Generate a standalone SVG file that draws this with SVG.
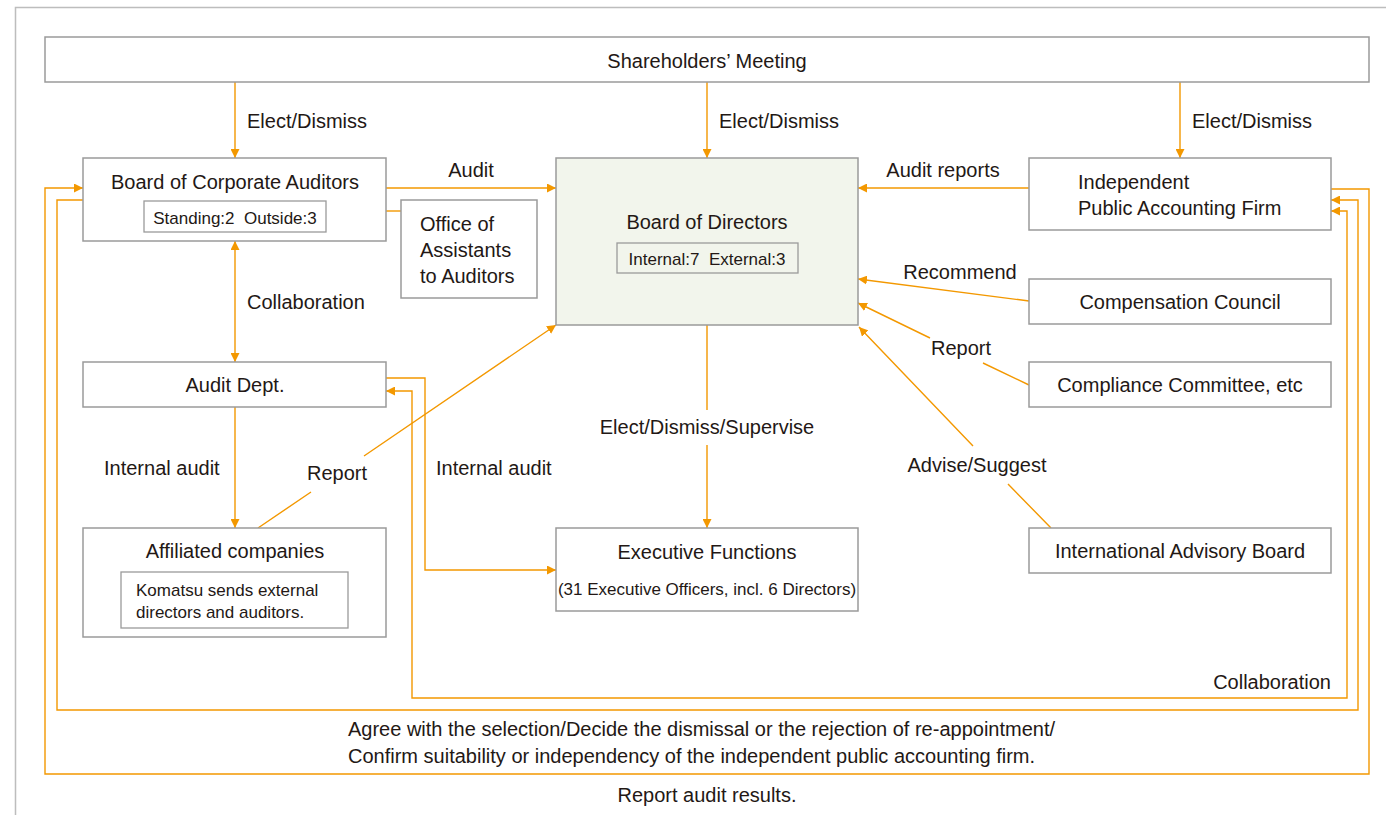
<svg xmlns="http://www.w3.org/2000/svg" width="1386" height="815" viewBox="0 0 1386 815">
<style>
text{font-family:"Liberation Sans",Arial,sans-serif;font-size:20px;fill:#231815}
.s{font-size:17px}
.c{text-anchor:middle}
.box{fill:#fff;stroke:#9a9a9a;stroke-width:1.5}
.ibox{fill:none;stroke:#9a9a9a;stroke-width:1.3}
.ln{fill:none;stroke:#f39800;stroke-width:1.4}
.a{marker-end:url(#ah)}
.aa{marker-start:url(#ah);marker-end:url(#ah)}
</style>
<defs>
<marker id="ah" markerUnits="userSpaceOnUse" markerWidth="9" markerHeight="9" refX="8" refY="4" orient="auto-start-reverse" viewBox="0 0 8 8">
<path d="M0,0 L8,4 L0,8 z" fill="#f39800"/>
</marker>
</defs>
<path d="M15.5,815 V7.5 H1386" fill="none" stroke="#bdbdbd" stroke-width="1.5"/>

<g id="connectors">
<path class="ln a" d="M235,82 V158"/>
<path class="ln a" d="M707,82 V158"/>
<path class="ln a" d="M1180,82 V158"/>
<path class="ln a" d="M386,188 H556"/>
<path class="ln" d="M386,211 H401"/>
<path class="ln a" d="M1029,188 H858"/>
<path class="ln a" d="M1029,301 L858,279"/>
<path class="ln a" d="M1029,385 L983,363 M930,338 L858,303"/>
<path class="ln a" d="M1051,528 L1008,484 M973,446 L859,327"/>
<path class="ln aa" d="M235,241 V362"/>
<path class="ln a" d="M235,407 V528"/>
<path class="ln a" d="M258,528 L311,492 M364,456 L556,325"/>
<path class="ln a" d="M707,325 V410 M707,445 V528"/>
<path class="ln a" d="M386,378 H425 V570 H556"/>
<path class="ln aa" d="M386,391 H412 V698 H1347 V211 H1331"/>
<path class="ln a" d="M83,200 H57 V710 H1358 V200 H1331"/>
<path class="ln a" d="M1331,189 H1369 V774 H45 V188 H83"/>
<text x="247" y="128">Elect/Dismiss</text>
<text x="719" y="128">Elect/Dismiss</text>
<text x="1192" y="128">Elect/Dismiss</text>
<text class="c" x="471" y="177">Audit</text>
<text class="c" x="943" y="177">Audit reports</text>
<text class="c" x="960" y="279">Recommend</text>
<text class="c" x="961" y="355">Report</text>
<text class="c" x="977" y="472">Advise/Suggest</text>
<text x="247" y="309">Collaboration</text>
<text class="c" x="707" y="434">Elect/Dismiss/Supervise</text>
<text x="104" y="475">Internal audit</text>
<text x="436" y="475">Internal audit</text>
<text class="c" x="337" y="480">Report</text>
<text x="1331" y="689" text-anchor="end">Collaboration</text>
<text x="348" y="736">Agree with the selection/Decide the dismissal or the rejection of re-appointment/</text>
<text x="348" y="763">Confirm suitability or independency of the independent public accounting firm.</text>
<text class="c" x="707" y="802">Report audit results.</text>
</g>

<g id="shareholders">
<rect class="box" x="45" y="37" width="1324" height="45"/>
<text class="c" x="707" y="68">Shareholders’ Meeting</text>
</g>
<g id="board-auditors">
<rect class="box" x="83" y="158" width="303" height="83"/>
<text class="c" x="235" y="189">Board of Corporate Auditors</text>
<rect class="ibox" x="144" y="201" width="182" height="31"/>
<text class="c s" x="235" y="224">Standing:2&#160; Outside:3</text>
</g>
<g id="office-assistants">
<rect class="box" x="401" y="200" width="136" height="98"/>
<text x="420" y="231">Office of</text>
<text x="420" y="257">Assistants</text>
<text x="420" y="283">to Auditors</text>
</g>
<g id="board-directors">
<rect x="556" y="158" width="302" height="167" fill="#f2f5ec" stroke="#9a9a9a" stroke-width="1.5"/>
<text class="c" x="707" y="229">Board of Directors</text>
<rect class="ibox" x="617" y="243" width="181" height="30"/>
<text class="c s" x="707" y="265">Internal:7&#160; External:3</text>
</g>
<g id="accounting-firm">
<rect class="box" x="1029" y="158" width="302" height="72"/>
<text x="1078" y="189">Independent</text>
<text x="1078" y="215">Public Accounting Firm</text>
</g>
<g id="compensation">
<rect class="box" x="1029" y="279" width="302" height="45"/>
<text class="c" x="1180" y="309">Compensation Council</text>
</g>
<g id="compliance">
<rect class="box" x="1029" y="362" width="302" height="45"/>
<text class="c" x="1180" y="392">Compliance Committee, etc</text>
</g>
<g id="advisory">
<rect class="box" x="1029" y="528" width="302" height="45"/>
<text class="c" x="1180" y="558">International Advisory Board</text>
</g>
<g id="audit-dept">
<rect class="box" x="83" y="362" width="303" height="45"/>
<text class="c" x="235" y="392">Audit Dept.</text>
</g>
<g id="affiliated">
<rect class="box" x="83" y="528" width="303" height="109"/>
<text class="c" x="235" y="558">Affiliated companies</text>
<rect class="ibox" x="121" y="572" width="227" height="56"/>
<text class="s" x="136" y="596">Komatsu sends external</text>
<text class="s" x="136" y="618">directors and auditors.</text>
</g>
<g id="executive">
<rect class="box" x="556" y="528" width="302" height="83"/>
<text class="c" x="707" y="559">Executive Functions</text>
<text class="c s" x="707" y="595">(31 Executive Officers, incl. 6 Directors)</text>
</g>
</svg>
